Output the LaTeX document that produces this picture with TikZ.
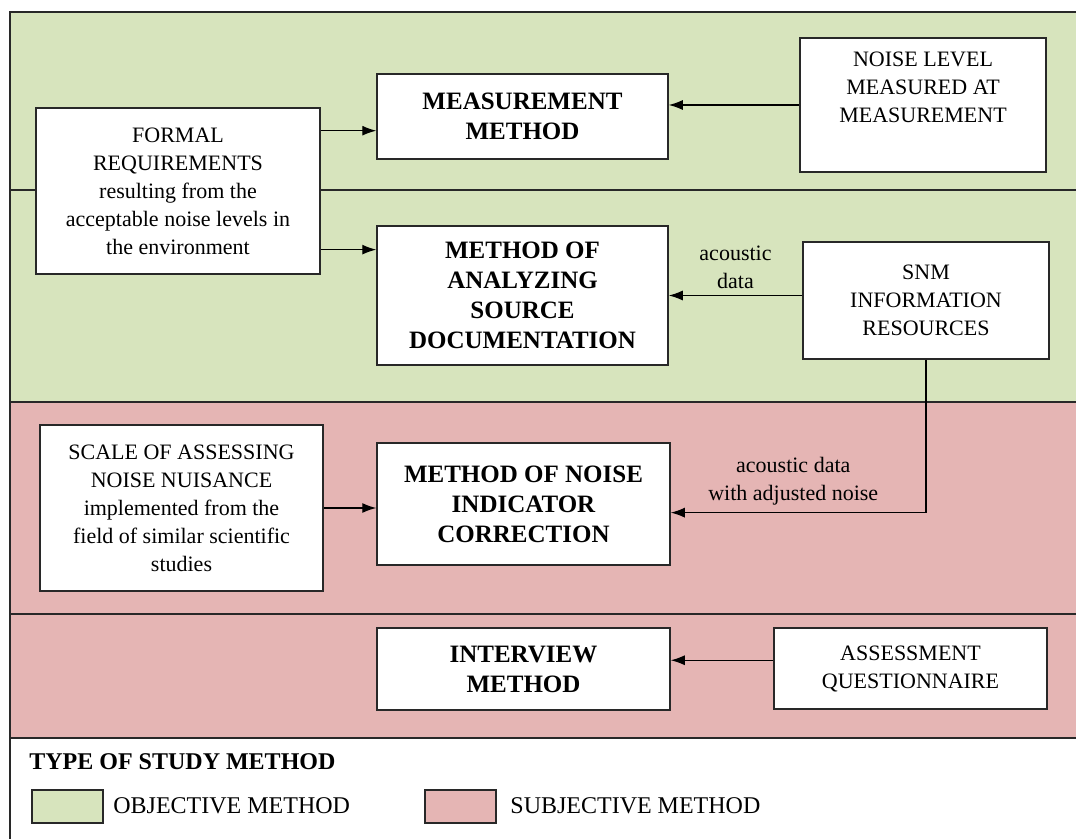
\documentclass[tikz,border=0pt]{standalone}
\usepackage{fontspec}
\setmainfont{Liberation Serif}
\usetikzlibrary{calc,arrows.meta}
\definecolor{objgreen}{RGB}{215,228,189}
\definecolor{subred}{RGB}{229,181,180}
\definecolor{lin}{RGB}{40,40,40}
\tikzset{
    box/.style={draw=lin, line width=0.75pt, fill=white, align=center, inner sep=2pt},
    meth/.style={box, font=\fontsize{12.5}{15}\selectfont\bfseries},
    src/.style={box, font=\fontsize{11}{14}\selectfont},
    lbl/.style={font=\fontsize{11}{14}\selectfont, align=center},
    arr/.style={draw=black, line width=0.6pt, -{Latex[length=7pt,width=5pt]}},
    band/.style={draw=lin, line width=0.75pt},
    swatch/.style={draw=lin, line width=0.75pt, minimum width=35.5pt, minimum height=16.5pt}
}
\begin{document}
\begin{tikzpicture}[x=0.5pt,y=-0.5pt]
    \clip (0,0) rectangle (1076,839);
    \fill[objgreen] (10,12) rectangle (1080,402);
    \fill[subred] (10,402) rectangle (1080,738);
    \draw[band] (10,850) -- (10,12) -- (1080,12);
    \foreach \y in {190,402,614,738} {
        \draw[band] (10,\y) -- (1080,\y);
    }

    \node[src, minimum width=142pt, minimum height=83pt] (formal) at (178,191)
        {FORMAL\\REQUIREMENTS\\resulting from the\\acceptable noise levels in\\the environment};
    \node[meth, minimum width=145.5pt, minimum height=42.5pt] (meas) at (522.5,116.5)
        {MEASUREMENT\\METHOD};
    \node[src, minimum width=123pt, minimum height=67pt] (noise) at (923,105)
        {NOISE LEVEL\\MEASURED AT\\MEASUREMENT\\\strut};
    \node[meth, minimum width=145.5pt, minimum height=69.5pt] (anal) at (522.5,295.5)
        {METHOD OF\\ANALYZING\\SOURCE\\DOCUMENTATION};
    \node[src, minimum width=123pt, minimum height=58.5pt] (snm) at (926,300.5)
        {SNM\\INFORMATION\\RESOURCES};
    \node[src, minimum width=141.5pt, minimum height=83pt] (scale) at (181.5,508)
        {SCALE OF ASSESSING\\NOISE NUISANCE\\implemented from the\\field of similar scientific\\studies};
    \node[meth, minimum width=146.5pt, minimum height=61pt] (corr) at (523.5,504)
        {METHOD OF NOISE\\INDICATOR\\CORRECTION};
    \node[meth, minimum width=146.5pt, minimum height=41pt] (interview) at (523.5,669)
        {INTERVIEW\\METHOD};
    \node[src, minimum width=136.5pt, minimum height=40.5pt] (assess) at (910.5,668.5)
        {ASSESSMENT\\QUESTIONNAIRE};

    \coordinate (f1) at ($(formal.north east)!0.14!(formal.south east)$);
    \coordinate (f2) at ($(formal.north east)!0.85!(formal.south east)$);
    \coordinate (c1) at ($(corr.north east)!0.57!(corr.south east)$);
    \coordinate (a1) at ($(assess.north west)!0.4!(assess.south west)$);
    \draw[arr] (f1) -- (f1 -| meas.west);
    \draw[arr] (f2) -- (f2 -| anal.west);
    \draw[arr] (noise.west) -- (noise.west -| meas.east);
    \draw[arr] (anal.east -| snm.west) -- node[lbl, above] (acdata) {acoustic\\data} (anal.east);
    \draw[arr] (snm.south) |- node[lbl, pos=0.76, above] (acadj) {acoustic data\\with adjusted noise} (c1);
    \draw[arr] (scale.east) -- (scale.east -| corr.west);
    \draw[arr] (a1) -- (a1 -| interview.east);

    \node[anchor=west, inner sep=0pt, font=\fontsize{12}{14}\selectfont\bfseries] (legtitle) at (29,762)
        {TYPE OF STUDY METHOD};
    \node[swatch, fill=objgreen] (objsw) at (67.5,806.5) {};
    \node[anchor=west, inner sep=0pt, font=\fontsize{12}{14}\selectfont] (objtxt) at (113,806)
        {OBJECTIVE METHOD};
    \node[swatch, fill=subred] (subsw) at (460.5,806.5) {};
    \node[anchor=west, inner sep=0pt, font=\fontsize{12}{14}\selectfont] (subtxt) at (510,806)
        {SUBJECTIVE METHOD};
\end{tikzpicture}
\end{document}
